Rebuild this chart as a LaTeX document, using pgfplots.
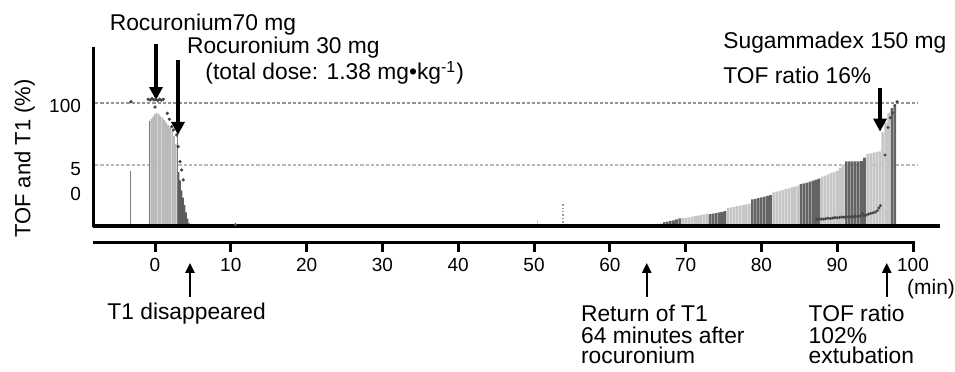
\documentclass[border=0pt]{standalone}
\usepackage{fontspec}
\setmainfont{Liberation Sans}
\usepackage{pgfplots}
\pgfplotsset{compat=1.18}
\usetikzlibrary{arrows.meta}
\definecolor{lightbar}{RGB}{198,198,198}
\definecolor{faintbar}{RGB}{218,218,218}
\definecolor{darkbar}{RGB}{100,100,100}
\definecolor{midbar}{RGB}{125,125,125}
\definecolor{leftlight}{RGB}{186,186,186}
\definecolor{leftdark}{RGB}{92,92,92}
\definecolor{dotcol}{RGB}{70,70,70}
\newcommand\af{\fontsize{11.4}{13}\selectfont}
\begin{document}
\begin{tikzpicture}
\begin{axis}[
  scale only axis,
  width=423.5pt, height=99.35pt,
  xmin=-8.18, xmax=103.56,
  ymin=-13.6, ymax=148,
  clip=false,
  axis x line=bottom, axis y line=left,
  x axis line style={draw=none},
  y axis line style={draw=none},
  xtick={0,10,20,30,40,50,60,70,80,90,100},
  ytick={26,46.3,97.6}, yticklabels={0,5,100},
  tick align=outside,
  major tick length=4.5pt,
  xtick style={line width=1.5pt, black},
  ytick style={draw=none},
  ticklabel style={font=\fontsize{9.5}{11}\selectfont},
  yticklabel style={xshift=2pt},
  /pgf/number format/assume math mode=true,
  ylabel={TOF and T1 (\%)},
  every axis y label/.style={at={(rel axis cs:-0.0806,0.4237)}, rotate=90, anchor=center, font=\fontsize{11}{13}\selectfont},
]
% invisible bounding box (955 x 372 px)
\path (axis cs:-20.45,183.74) rectangle (axis cs:105.54,-118.7);

% reference dashed lines
\addplot[color=gray!85, line width=0.8pt, dash pattern=on 1.6pt off 1pt] coordinates {(-7.9,100) (100.5,100)};
\addplot[color=gray!55, line width=0.7pt, dash pattern=on 1.6pt off 1pt] coordinates {(-7.9,49.6) (100.5,49.6)};

% ---- T1 bars, left ----
\addplot[ybar, bar shift=0pt, bar width=0.18, fill=midbar, draw=none] coordinates {(-3.2,44.7)};
\addplot[ybar, bar shift=0pt, bar width=0.2, fill=midbar, draw=none] coordinates {(-0.75,85)};
\addplot[ybar, bar shift=0pt, bar width=0.21, fill=leftlight, draw=none] coordinates {
(-0.5,87) (-0.25,89) (0,91) (0.25,92) (0.5,91) (0.75,89) (1.0,88) (1.25,86)
(1.5,84) (1.75,82) (2.0,80) (2.25,77) (2.5,73) (2.75,67)};
\addplot[ybar, bar shift=0pt, bar width=0.12, fill=midbar, draw=none] coordinates {(2.95,74)};
\addplot[ybar, bar shift=0pt, bar width=0.2, fill=leftdark, draw=none] coordinates {
(3.1,44) (3.3,37) (3.5,29) (3.7,23) (3.9,17) (4.1,11) (4.3,6) (4.5,2)};

% small isolated traces
\addplot[color=gray!40, line width=0.6pt, densely dashed] coordinates {(50.46,0) (50.46,8)};
\addplot[color=gray!80, line width=0.7pt, densely dotted] coordinates {(53.8,0) (53.8,18)};

% ---- T1 bars, right ----
\addplot[ybar, bar shift=0pt, bar width=0.34, fill=faintbar, draw=none] coordinates {
(65.6,1.0) (66.0,1.4) (66.4,1.8) (66.8,2.3)};
\addplot[ybar, bar shift=0pt, bar width=0.34, fill=darkbar, draw=none] coordinates {
(67.2,3.0) (67.6,3.5) (68.0,4.0) (68.4,4.6) (68.8,5.3) (69.2,6.2)};
\addplot[ybar, bar shift=0pt, bar width=0.34, fill=lightbar, draw=none] coordinates {
(69.6,6.3) (70.0,6.5) (70.4,7.0) (70.8,7.4) (71.2,7.9) (71.6,8.4) (72.0,8.9) (72.4,9.4) (72.8,9.9)};
\addplot[ybar, bar shift=0pt, bar width=0.34, fill=darkbar, draw=none] coordinates {
(73.2,9.6) (73.6,10.0) (74.0,10.5) (74.4,11.0) (74.8,11.5) (75.2,12.0)};
\addplot[ybar, bar shift=0pt, bar width=0.34, fill=lightbar, draw=none] coordinates {
(75.6,14.5) (76.0,15.0) (76.4,15.5) (76.8,16.0) (77.2,16.6) (77.6,17.1) (78.0,17.6) (78.4,18.2)};
\addplot[ybar, bar shift=0pt, bar width=0.34, fill=darkbar, draw=none] coordinates {
(78.8,21.5) (79.2,22.0) (79.6,22.6) (80.0,23.2) (80.4,23.8) (80.8,24.4) (81.2,25.0)};
\addplot[ybar, bar shift=0pt, bar width=0.34, fill=lightbar, draw=none] coordinates {
(81.6,27.3) (82.0,27.8) (82.4,28.5) (82.8,29.2) (83.2,29.9) (83.6,30.6) (84.0,31.3) (84.4,32.0) (84.8,32.8)};
\addplot[ybar, bar shift=0pt, bar width=0.34, fill=darkbar, draw=none] coordinates {
(85.2,34.0) (85.6,34.6) (86.0,35.3) (86.4,36.0) (86.8,36.8) (87.2,37.6) (87.6,38.5)};
\addplot[ybar, bar shift=0pt, bar width=0.34, fill=lightbar, draw=none] coordinates {
(88.0,40.0) (88.4,41.0) (88.8,42.0) (89.2,43.0) (89.6,44.0) (90.0,45.0) (90.4,47.5) (90.8,49.5)};
\addplot[ybar, bar shift=0pt, bar width=0.34, fill=darkbar, draw=none] coordinates {
(91.2,52.4) (91.6,52.4) (92.0,52.4) (92.4,52.4) (92.8,52.4) (93.2,52.6) (93.6,55.5)};
\addplot[ybar, bar shift=0pt, bar width=0.34, fill=lightbar, draw=none] coordinates {
(94.0,58.5) (94.4,59.0) (94.8,59.6) (95.2,60.2) (95.6,60.6)
(96.0,76) (96.4,84) (96.8,92)};
\addplot[ybar, bar shift=0pt, bar width=0.34, fill=darkbar, draw=none] coordinates {
(97.2,96) (97.6,98)};

% ---- TOF ratio dots ----
\addplot[only marks, mark=*, mark size=0.6pt, color=dotcol] coordinates {
(-3.17,101) (-0.9,103) (-0.65,102.4) (-0.4,103.5) (-0.15,102.5) (0.1,103) (0,96.7)
(0.35,102) (0.6,103) (0.85,102.2) (1.1,103) (1.62,91.6) (1.89,86.7) (2.2,80.7)
(2.41,78) (2.86,74) (3.05,64.5) (3.3,52.3) (3.52,45.5) (3.73,37.4) (10.6,1)};
\addplot[only marks, mark=*, mark size=0.55pt, color=dotcol] coordinates {
(87.3,5.2) (87.6,5.4) (87.9,5.6) (88.2,5.5) (88.5,5.9) (88.8,6.3) (89.1,6.0) (89.4,6.4)
(89.7,6.8) (90.0,6.6) (90.3,6.9) (90.6,7.2) (90.9,7.1) (91.2,7.3) (91.5,7.4) (91.8,7.4)
(92.1,7.6) (92.4,7.7) (92.7,7.8) (93.0,8.0) (93.3,9.8) (93.5,8.4) (93.8,8.8) (94.1,9.6)
(94.4,10.2) (94.7,10.6) (95.0,11.2) (95.3,12.4) (95.5,14.6) (95.7,16.5)
(96.3,57.7) (96.7,80) (97.0,88) (97.3,92) (97.6,98) (97.9,101)};

% ---- axis lines ----
\draw[line width=1.5pt] (axis cs:-8.18,145.8) -- (axis cs:-8.18,-0.8);
\draw[line width=2pt] (axis cs:-8.18,0) -- (axis cs:103.56,0);
\draw[line width=1.5pt] (axis cs:-8.18,-13.6) -- (axis cs:100.26,-13.6);

% ---- arrows ----
\draw[line width=2pt, -{Triangle[width=6.5pt,length=6.5pt]}] (axis cs:0.13,148) -- (axis cs:0.13,102.4);
\draw[line width=2pt, -{Triangle[width=6.5pt,length=6.5pt]}] (axis cs:3.03,135) -- (axis cs:3.03,74);
\draw[line width=2pt, -{Triangle[width=6.5pt,length=6.5pt]}] (axis cs:95.65,112) -- (axis cs:95.65,76.7);
\draw[line width=1.2pt, -{Triangle[width=4.5pt,length=5pt]}] (axis cs:4.62,-57.7) -- (axis cs:4.62,-30.1);
\draw[line width=1.2pt, -{Triangle[width=4.5pt,length=5pt]}] (axis cs:64.87,-57.7) -- (axis cs:64.87,-30.1);
\draw[line width=1.2pt, -{Triangle[width=4.5pt,length=5pt]}] (axis cs:96.53,-57.7) -- (axis cs:96.53,-30.1);

% ---- annotations ----
\node[anchor=base, inner sep=0] at (axis cs:6.33,159.3) {\af Rocuronium70 mg};
\node[anchor=base west, inner sep=0] at (axis cs:4.18,140.4) {\af Rocuronium 30 mg};
\node[anchor=base west, inner sep=0] at (axis cs:6.6,118.7) {\af (total dose: 1.38 mg•kg\textsuperscript{-1})};
\node[anchor=base west, inner sep=0] at (axis cs:74.93,144.5) {\af Sugammadex 150 mg};
\node[anchor=base west, inner sep=0] at (axis cs:74.93,116) {\af TOF ratio 16\%};
\node[anchor=base west, inner sep=0] at (axis cs:-6.33,-76.4) {\af T1 disappeared};
\node[anchor=base west, inner sep=0] at (axis cs:56.16,-77.8) {\af Return of T1};
\node[anchor=base west, inner sep=0] at (axis cs:56.16,-95.4) {\af 64 minutes after};
\node[anchor=base west, inner sep=0] at (axis cs:56.16,-111.6) {\af rocuronium};
\node[anchor=base west, inner sep=0] at (axis cs:86.19,-77.8) {\af TOF ratio};
\node[anchor=base west, inner sep=0] at (axis cs:86.19,-95.4) {\af 102\%};
\node[anchor=base west, inner sep=0] at (axis cs:86.19,-111.6) {\af extubation};
\node[anchor=base west, inner sep=0] at (axis cs:99.17,-56.1) {\fontsize{10.5}{12}\selectfont (min)};
\end{axis}
\end{tikzpicture}
\end{document}
